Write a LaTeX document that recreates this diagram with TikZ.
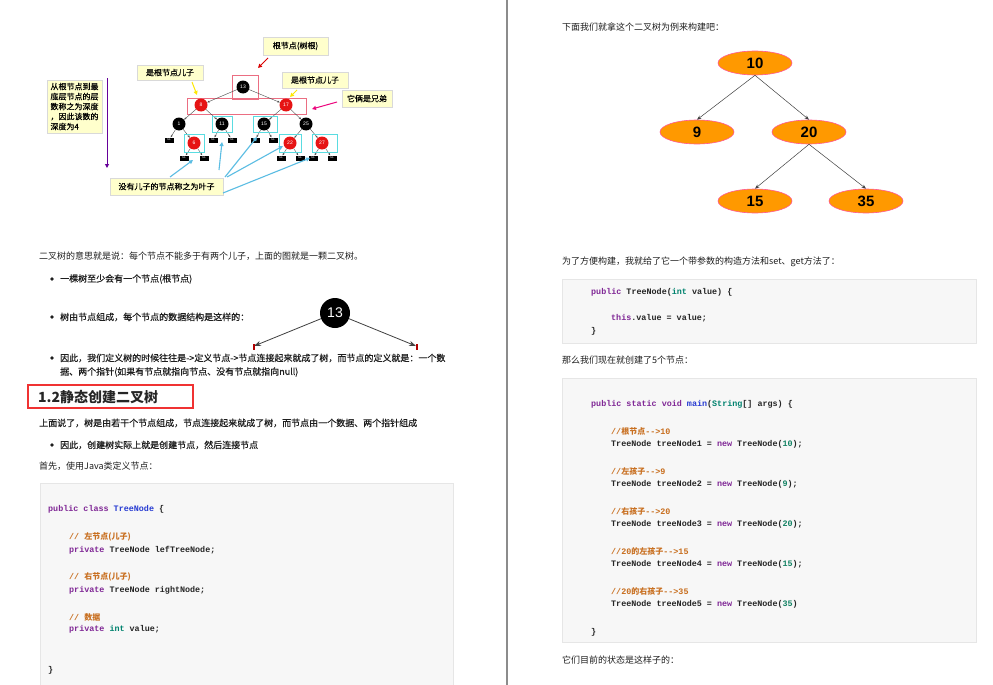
\documentclass[tikz,border=0pt]{standalone}
\usepackage{fontspec}
\setmainfont{Noto Sans CJK SC}
\newfontfamily\cjk{Noto Sans CJK SC}
\newfontfamily\cjkmed{Noto Sans CJK SC}[FakeBold=0.5]
\newfontfamily\codefont{Liberation Mono}
\newfontfamily\arialfont{Liberation Sans}
\usetikzlibrary{arrows.meta,shadows,shapes.geometric}
\definecolor{txt}{RGB}{30,30,30}
\definecolor{kwc}{RGB}{128,40,150}
\definecolor{clsc}{RGB}{40,60,210}
\definecolor{typc}{RGB}{0,130,110}
\definecolor{cmtc}{RGB}{200,110,30}
\definecolor{numc}{RGB}{20,130,100}
\definecolor{codebg}{RGB}{247,247,247}
\definecolor{codeborder}{RGB}{230,230,230}
\definecolor{notebg}{RGB}{255,255,204}
\definecolor{pinkbox}{RGB}{235,110,130}
\definecolor{cyanbox}{RGB}{90,220,225}
\definecolor{orangefill}{RGB}{255,153,0}
\definecolor{ellborder}{RGB}{255,90,150}
\definecolor{treered}{RGB}{230,20,20}
\definecolor{headred}{RGB}{240,50,50}
\newcommand\ckw[1]{\textcolor{kwc}{#1}}
\newcommand\ccls[1]{\textcolor{clsc}{#1}}
\newcommand\ctyp[1]{\textcolor{typc}{#1}}
\newcommand\ccmt[1]{\textcolor{cmtc}{#1}}
\newcommand\cnum[1]{\textcolor{numc}{#1}}
\newcommand\czh[1]{{\cjk\fontsize{8}{8}\selectfont #1}}
\tikzset{
  body/.style={anchor=west, inner sep=0, font=\fontsize{9}{11}\selectfont, text=txt},
  bodym/.style={anchor=west, inner sep=0, font=\cjkmed\fontsize{9}{11}\selectfont, text=txt},
  code/.style={anchor=west, inner sep=0, font=\codefont\bfseries\fontsize{8.4}{10}\selectfont, text=black!85},
  codebox/.style={fill=codebg, draw=codeborder, line width=0.6pt},
  bul/.style={circle, fill=txt, minimum size=3.6pt, inner sep=0},
  note/.style={fill=notebg, draw=black!15, line width=0.3pt, inner sep=0, font=\cjkmed\fontsize{8}{10}\selectfont, text=black,
    drop shadow={shadow xshift=1.2pt, shadow yshift=-1.2pt, opacity=0.35, fill=black!50}},
  callout/.style={line width=1pt, -{Triangle[length=4pt,width=4pt]}},
  sc/.style={circle, minimum size=13pt, inner sep=0, font=\arialfont\fontsize{5}{5}\selectfont, text=white},
  blk/.style={sc, fill=black},
  rd/.style={sc, fill=treered},
  nil/.style={fill=black, minimum width=9pt, minimum height=5pt, inner sep=0, font=\arialfont\fontsize{2.5}{2.5}\selectfont, text=white},
  tedge/.style={draw=black!70, line width=0.4pt, -{Stealth[length=2.5pt,width=2pt]}},
  ell/.style={ellipse, draw=ellborder, line width=0.6pt, fill=orangefill, minimum width=74pt, minimum height=24pt, inner sep=0, font=\arialfont\bfseries\fontsize{15}{15}\selectfont},
  redge/.style={draw=black!75, line width=0.5pt, -{Stealth[length=4.5pt,width=3.5pt]}}
}
\begin{document}
\begin{tikzpicture}[x=1pt,y=-1pt]
\useasboundingbox (0,0) rectangle (993,685);
\fill[white] (0,0) rectangle (993,685);
% page divider
\draw[black!45, line width=1.3pt] (507,0) -- (507,685);

% ===== small annotated tree =====
\draw[pinkbox, line width=0.6pt] (232,75) rectangle (258,99);
\draw[pinkbox, line width=0.6pt] (187,98) rectangle (306,114);
\node[blk] (n13) at (243,87) {13};
\node[rd] (n8) at (201,105) {8};
\node[rd] (n17) at (286,105) {17};
\node[blk] (n1) at (179,124) {1};
\node[blk] (n11) at (222,124) {11};
\node[blk] (n15) at (264,124) {15};
\node[blk] (n25) at (306,124) {25};
\node[nil] (nil1) at (169,140) {NIL};
\node[rd] (n6) at (194,143) {6};
\node[nil] (nil2) at (213,140) {NIL};
\node[nil] (nil3) at (232,140) {NIL};
\node[nil] (nil4) at (255,140) {NIL};
\node[nil] (nil5) at (273,140) {NIL};
\node[rd] (n22) at (290,143) {22};
\node[rd] (n27) at (322,143) {27};
\node[nil] (nil6) at (184,158) {NIL};
\node[nil] (nil7) at (204,158) {NIL};
\node[nil] (nil8) at (281,158) {NIL};
\node[nil] (nil9) at (300,158) {NIL};
\node[nil] (nil10) at (313,158) {NIL};
\node[nil] (nil11) at (332,158) {NIL};
\foreach \a/\b in {n13/n8,n13/n17,n8/n1,n8/n11,n17/n15,n17/n25,n1/nil1,n1/n6,n11/nil2,n11/nil3,n15/nil4,n15/nil5,n25/n22,n25/n27,n6/nil6,n6/nil7,n22/nil8,n22/nil9,n27/nil10,n27/nil11}
  \draw[tedge] (\a) -- (\b);
\draw[cyanbox, line width=0.8pt] (212,116) rectangle (232,132);
\draw[cyanbox, line width=0.8pt] (253,116) rectangle (277,132);
\draw[cyanbox, line width=0.8pt] (184,134) rectangle (204,152);
\draw[cyanbox, line width=0.8pt] (279,134) rectangle (301,152);
\draw[cyanbox, line width=0.8pt] (312,134) rectangle (337,152);

% notes
\node[note, minimum width=55pt, minimum height=53pt, align=left] (ndepth) at (74.5,106.5) {从根节点到最\\底层节点的层\\数称之为深度\\，因此该数的\\深度为4};
\node[note, minimum width=65pt, minimum height=18pt] (nroot) at (295.5,46) {根节点(树根)};
\node[note, minimum width=66pt, minimum height=15pt] (nsonl) at (170,72.5) {是根节点儿子};
\node[note, minimum width=66pt, minimum height=16pt] (nsonr) at (315,80) {是根节点儿子};
\node[note, minimum width=50pt, minimum height=17pt] (nbro) at (367,98.5) {它俩是兄弟};
\node[note, minimum width=113pt, minimum height=17pt] (nleaf) at (166.5,186.5) {没有儿子的节点称之为叶子};

% callout arrows
\coordinate (ra) at (268,58); \coordinate (rb) at (258,68);
\draw[callout, red!85!black] (ra) -- (rb);
\coordinate (ya) at (192,82); \coordinate (yb) at (197,95);
\draw[callout, yellow!90!orange] (ya) -- (yb);
\coordinate (yc) at (297,90); \coordinate (yd) at (290,97);
\draw[callout, yellow!90!orange] (yc) -- (yd);
\coordinate (pa) at (337,102); \coordinate (pb) at (312,109);
\draw[callout, magenta!85!red] (pa) -- (pb);
\coordinate (va) at (107,78); \coordinate (vb) at (107,168);
\draw[callout, violet!80!blue] (va) -- (vb);
\coordinate (c1a) at (170,177); \coordinate (c1b) at (193,160);
\coordinate (c2a) at (219,170); \coordinate (c2b) at (222,142);
\coordinate (c3a) at (225,177); \coordinate (c3b) at (257,137);
\coordinate (c4a) at (227,177); \coordinate (c4b) at (283,146);
\coordinate (c5a) at (223,193); \coordinate (c5b) at (310,158);
\foreach \s/\e in {c1a/c1b,c2a/c2b,c3a/c3b,c4a/c4b,c5a/c5b}
  \draw[callout, cyan!75!teal!70!white, line width=1.1pt] (\s) -- (\e);

% ===== left text =====
\node[body] (t1) at (39,256) {二叉树的意思就是说：每个节点不能多于有两个儿子，上面的图就是一颗二叉树。};
\node[bul] (bu1) at (52,279) {};
\node[bodym] (t2) at (60,279) {一棵树至少会有一个节点(根节点)};
\node[bul] (bu2) at (52,317) {};
\node[bodym] (t3) at (60,317) {树由节点组成，每个节点的数据结构是这样的：};
\node[bul] (bu3) at (52,358) {};
\node[bodym] (t4) at (60,358) {因此，我们定义树的时候往往是->定义节点->节点连接起来就成了树，而节点的定义就是：一个数};
\node[bodym] (t5) at (60,372) {据、两个指针(如果有节点就指向节点、没有节点就指向null)};

% big 13 node
\node[circle, fill=black, minimum size=30pt, inner sep=0, font=\arialfont\fontsize{14}{14}\selectfont, text=white] (big) at (335,313) {13};
\coordinate (bl) at (254,346); \coordinate (br) at (416,346);
\draw[black!75, line width=0.8pt, -{Stealth[length=7pt,width=5pt]}] (big) -- (bl);
\draw[black!75, line width=0.8pt, -{Stealth[length=7pt,width=5pt]}] (big) -- (br);
\fill[red!70!black] (252.5,344) rectangle (254.5,350);
\fill[red!70!black] (416,344) rectangle (418,350);

% heading
\draw[headred, line width=2pt] (28,385) rectangle (193,408);
\node[anchor=west, inner sep=0, font=\bfseries\fontsize{14}{16}\selectfont, text=black!85] (h1) at (38,397) {1.2静态创建二叉树};
\node[bodym] (t6) at (39,423) {上面说了，树是由若干个节点组成，节点连接起来就成了树，而节点由一个数据、两个指针组成};
\node[bul] (bu4) at (52,445) {};
\node[bodym] (t7) at (60,445) {因此，创建树实际上就是创建节点，然后连接节点};
\node[body] (t8) at (39,466) {首先，使用Java类定义节点：};

% left code box
\draw[codebox] (40,483) rectangle (453,700);
\node[code] (c1) at (48,509) {\ckw{public class} \ccls{TreeNode} \{};
\node[code] (c2) at (69,537) {\ccmt{// \czh{左节点(儿子)}}};
\node[code] (c3) at (69,550) {\ckw{private} TreeNode lefTreeNode;};
\node[code] (c4) at (69,577) {\ccmt{// \czh{右节点(儿子)}}};
\node[code] (c5) at (69,590) {\ckw{private} TreeNode rightNode;};
\node[code] (c6) at (69,617) {\ccmt{// \czh{数据}}};
\node[code] (c7) at (69,629) {\ckw{private} \ctyp{int} value;};
\node[code] (c8) at (48,670) {\}};

% ===== right page =====
\node[body] (r1) at (562,27) {下面我们就拿这个二叉树为例来构建吧：};
\node[ell] (r10) at (755,63) {10};
\node[ell] (r9) at (697,132) {9};
\node[ell] (r20) at (809,132) {20};
\node[ell] (r15) at (755,201) {15};
\node[ell] (r35) at (866,201) {35};
\draw[redge] (r10.south) -- (r9.north);
\draw[redge] (r10.south) -- (r20.north);
\draw[redge] (r20.south) -- (r15.north);
\draw[redge] (r20.south) -- (r35.north);

\node[body] (r2) at (562,262) {为了方便构建，我就给了它一个带参数的构造方法和set、get方法了：};
\draw[codebox] (562,279) rectangle (976,343);
\node[code] (d1) at (591,292) {\ckw{public} TreeNode(\ctyp{int} value) \{};
\node[code] (d2) at (611,318) {\ckw{this}.value = value;};
\node[code] (d3) at (591,331) {\}};

\node[body] (r3) at (562,360) {那么我们现在就创建了5个节点：};
\draw[codebox] (562,378) rectangle (976,642);
\node[code] (e1) at (591,404) {\ckw{public static void} \ccls{main}(\ctyp{String}[] args) \{};
\node[code] (e2) at (611,431) {\ccmt{//\czh{根节点}-->10}};
\node[code] (e3) at (611,444) {TreeNode treeNode1 = \ckw{new} TreeNode(\cnum{10});};
\node[code] (e4) at (611,471) {\ccmt{//\czh{左孩子}-->9}};
\node[code] (e5) at (611,484) {TreeNode treeNode2 = \ckw{new} TreeNode(\cnum{9});};
\node[code] (e6) at (611,511) {\ccmt{//\czh{右孩子}-->20}};
\node[code] (e7) at (611,524) {TreeNode treeNode3 = \ckw{new} TreeNode(\cnum{20});};
\node[code] (e8) at (611,551) {\ccmt{//20\czh{的左孩子}-->15}};
\node[code] (e9) at (611,564) {TreeNode treeNode4 = \ckw{new} TreeNode(\cnum{15});};
\node[code] (e10) at (611,591) {\ccmt{//20\czh{的右孩子}-->35}};
\node[code] (e11) at (611,604) {TreeNode treeNode5 = \ckw{new} TreeNode(\cnum{35})};
\node[code] (e12) at (591,632) {\}};
\node[body] (r4) at (562,660) {它们目前的状态是这样子的：};
\end{tikzpicture}
\end{document}
